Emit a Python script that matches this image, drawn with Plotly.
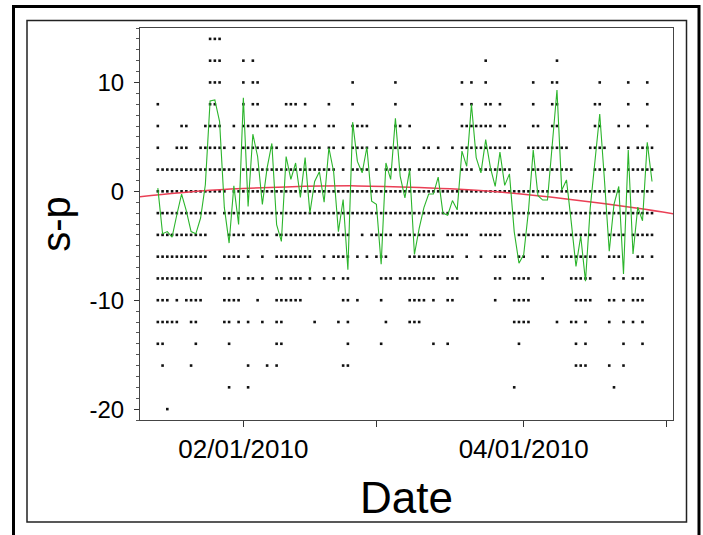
import pandas as pd
import plotly.graph_objects as go

START = pd.Timestamp("2010-01-14")

# Daily mean of s-p (green line), day 0 = 2010-01-14 ... day 104 = 2010-04-28
mean_sp = [
    0.3, -3.9, -3.7, -4.2, -2.15, -0.25, -1.8, -3.7, -3.9, -2.45,
    0.6, 8.3, 8.4, 6.4, -1.5, -4.75, 0.5, -3.05, 8.6, -1.4,
    5.25, 3.2, -1.2, 2.15, 4.4, -3.05, -4.6, 3.2, 1.1, 2.6,
    -0.55, 3.1, -2.0, 0.9, 1.8, -1.0, 4.0, 1.8, -3.7, -0.75,
    -7.2, 6.35, 2.75, 1.7, 4.05, -0.9, -1.2, -6.7, 2.6, 1.1,
    6.7, 1.4, -0.6, 2.0, -5.8, -3.4, -1.5, -0.25, -0.25, 1.3,
    -2.0, -2.2, -0.85, -1.7, 3.7, 2.3, 8.0, 3.1, 1.7, 4.75,
    2.15, 0.45, 3.6, 0.55, 1.6, -3.7, -6.6, -5.8, -1.8, 3.8,
    -0.4, -0.8, -0.8, 4.2, 9.3, 0.1, 1.05, -2.8, -6.9, -4.1,
    -8.25, -1.5, 2.8, 7.1, 1.0, -5.5, -1.2, 0.45, -7.6, 3.8,
    -5.75, -1.45, -2.7, 4.5, 0.9,
]

# Quadratic trend (red), read at a few dates
trend_dates = ["2010-01-10", "2010-01-25", "2010-02-10", "2010-02-25", "2010-03-10",
               "2010-03-25", "2010-04-10", "2010-04-25", "2010-05-03"]
trend_vals = [-0.5, 0.1, 0.4, 0.5, 0.35, 0.0, -0.7, -1.55, -2.1]

def rng(a, b):
    return list(range(a, b + 1))

# Observed s-p values: days (offset from START) on which each value occurs
days_p14 = [11, 12, 13]
days_p12 = [11, 12, 13, 18, 20, 69, 84]
days_p10 = [11, 12, 13, 18, 20, 21, 41, 50, 64, 66, 69, 79, 83, 84, 93, 99, 103]
days_p8 = [0, 11, 12, 18, 20, 21, 27, 28, 29, 31, 36, 41, 50, 64, 66, 69, 70, 72, 79,
           83, 84, 92, 93, 99, 103]
days_p6 = [0, 5, 6, 10, 11, 12, 13, 16, 18, 19, 20, 21, 23, 24, 25, 27, 28, 29, 31, 33,
           36, 37, 41, 42, 43, 44, 50, 51, 53, 64, 65, 66, 67, 68, 69, 70, 72, 73, 79, 80,
           83, 84, 92, 93, 97, 99, 103]
days_p4 = ([0, 4, 5, 6] + rng(9, 14) + [16] + rng(18, 25) + rng(27, 34) + [36, 37, 39]
           + rng(41, 44) + [46] + rng(48, 53) + [56, 57, 59, 62] + rng(64, 74)
           + rng(78, 86) + rng(91, 94) + [97, 99] + rng(101, 104))
days_p2 = (rng(0, 16) + rng(18, 37) + [39] + rng(41, 44) + [46] + rng(48, 53)
           + rng(55, 62) + rng(64, 66) + rng(68, 74) + rng(78, 87) + rng(92, 94)
           + [96, 97] + rng(99, 104))
days_0 = rng(0, 14) + rng(16, 97) + rng(99, 104)
days_m2 = rng(0, 12) + rng(14, 104)
days_m4 = (rng(0, 10) + rng(15, 18) + rng(20, 23) + rng(25, 40) + [43] + rng(45, 49)
           + rng(51, 58) + rng(61, 65) + rng(68, 72) + rng(76, 92) + rng(95, 98)
           + rng(100, 104))
days_m6 = (rng(0, 10) + rng(14, 17) + [19, 22] + rng(25, 32) + [35] + rng(37, 40)
           + [42, 44] + rng(46, 48) + rng(53, 62) + [65, 68] + rng(71, 73) + [76, 77]
           + [81, 82] + rng(85, 92) + rng(95, 97) + [101, 102, 104])
days_m8 = (rng(0, 9) + [14, 15, 17, 19, 20, 22, 25, 26] + rng(28, 30) + [32, 35, 37, 39, 40]
           + rng(47, 49) + rng(51, 58) + rng(61, 63) + [71, 72] + rng(75, 78) + [81]
           + rng(87, 91) + [96, 98] + rng(100, 102))
days_m10 = ([0, 1, 2, 4] + rng(6, 9) + rng(14, 17) + [21] + rng(25, 30) + [39, 40, 42, 47]
            + rng(53, 56) + [58, 61, 62, 71] + rng(75, 78) + rng(88, 91) + [95, 96, 98]
            + rng(100, 102))
days_m12 = (rng(0, 4) + [7, 8, 14, 15, 17, 19, 22, 25, 26, 33, 38, 40, 48] + rng(53, 55)
            + rng(75, 78) + [84, 87, 88, 90, 95, 98, 100, 102])
days_m14 = [0, 1, 8, 15, 25, 26, 40, 47, 58, 61, 76, 88, 90, 98, 102]
days_m16 = [1, 7, 19, 23, 25, 39, 40, 88, 89, 90, 95, 98]
days_m18 = [15, 19, 75, 96]
days_m20 = [2]

levels = [14, 12, 10, 8, 6, 4, 2, 0, -2, -4, -6, -8, -10, -12, -14, -16, -18, -20]
level_days = [days_p14, days_p12, days_p10, days_p8, days_p6, days_p4, days_p2, days_0,
              days_m2, days_m4, days_m6, days_m8, days_m10, days_m12, days_m14,
              days_m16, days_m18, days_m20]

dot_x, dot_y = [], []
for lv, dl in zip(levels, level_days):
    for d in sorted(set(dl)):
        dot_x.append(START + pd.Timedelta(days=d))
        dot_y.append(lv)

mean_x = [START + pd.Timedelta(days=i) for i in range(len(mean_sp))]

FONT = "Liberation Sans, Arial, sans-serif"

fig = go.Figure()
fig.add_trace(go.Scatter(x=dot_x, y=dot_y, mode="markers",
                         marker=dict(symbol="square", size=2.6, color="#111111",
                                     line=dict(width=0)),
                         hoverinfo="skip", showlegend=False))
fig.add_trace(go.Scatter(x=pd.to_datetime(trend_dates), y=trend_vals, mode="lines",
                         line=dict(color="#ea3f55", width=1.5, shape="spline"),
                         hoverinfo="skip", showlegend=False))
fig.add_trace(go.Scatter(x=mean_x, y=mean_sp, mode="lines",
                         line=dict(color="#2cb52c", width=1.1),
                         hoverinfo="skip", showlegend=False))

# plot area: x 140..673, y 28..420 in a 703x535 page
L, R, T, B = 140, 673, 28, 420
W, H = R - L, B - T

def px(x):
    return (x - L) / W

def py(y):
    return (B - y) / H

shapes = [
    dict(type="rect", xref="paper", yref="paper", x0=px(13.5), x1=px(699), y0=py(545), y1=py(6.5),
         line=dict(color="black", width=3), layer="below"),
    dict(type="rect", xref="paper", yref="paper", x0=px(27), x1=px(686.5), y0=py(522), y1=py(20.5),
         line=dict(color="#222222", width=1.5), layer="below"),
]

fig.update_layout(
    width=703, height=535,
    margin=dict(l=L, r=703 - R, t=T, b=535 - B),
    paper_bgcolor="white", plot_bgcolor="white",
    font=dict(family=FONT, color="black"),
    shapes=shapes,
    showlegend=False,
)

fig.update_xaxes(
    type="date",
    range=["2010-01-10 06:00", "2010-05-02 10:00"],
    tickvals=["2010-02-01", "2010-03-01", "2010-04-01", "2010-05-01"],
    ticktext=["02/01/2010", "", "04/01/2010", ""],
    ticks="outside", ticklen=6, tickcolor="#333333", tickwidth=1,
    tickfont=dict(size=26, family=FONT, color="black"),
    showline=True, linecolor="#444444", linewidth=1, mirror=True,
    showgrid=False, zeroline=False,
    title=dict(text="Date", font=dict(size=44, family=FONT, color="black"), standoff=18),
)
fig.update_yaxes(
    range=[-21, 15],
    tickvals=[10, 0, -10, -20],
    ticktext=["10", "0", "-10", "-20"],
    ticks="outside", ticklen=5, tickcolor="#333333", tickwidth=1,
    minor=dict(dtick=1, ticks="outside", ticklen=3, tickcolor="#555555", showgrid=False),
    tickfont=dict(size=24, family=FONT, color="black"),
    ticklabelstandoff=5,
    showline=True, linecolor="#444444", linewidth=1, mirror=True,
    showgrid=False, zeroline=False,
    title=dict(text="s-p", font=dict(size=40, family=FONT, color="black"), standoff=6),
)

fig.write_html("out.html")
